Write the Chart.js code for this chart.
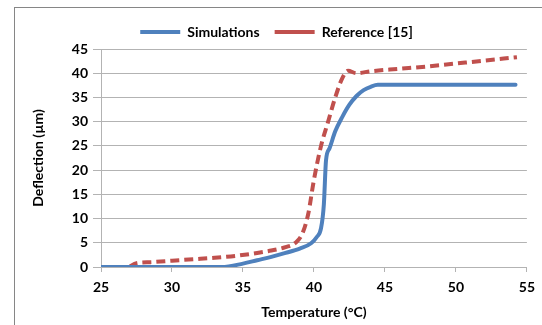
<!DOCTYPE html>
<html>
<head>
<meta charset="utf-8">
<script src="https://cdn.jsdelivr.net/npm/chart.js@4"></script>
<style>
  html, body { margin: 0; padding: 0; background: #fff; }
  #wrap { position: relative; width: 542px; height: 325px; }
  #frame { position: absolute; left: 14px; top: 7px; right: -2px; bottom: -2px;
    border-left: 1px solid #868686; border-top: 1px solid #868686; }
  canvas { position: absolute; left: 0; top: 0; }
</style>
</head>
<body>
<div id="wrap">
  <div id="frame"></div>
  <canvas id="chart" width="542" height="325"></canvas>
</div>
<script>
// values (temperature in °C, deflection in µm)
const simTemp = [25, 33.5, 35, 36, 37, 38, 39, 39.8, 40.2, 40.5, 40.7, 40.85, 41.1, 41.5, 42, 42.5, 43, 43.5, 44, 44.5, 54.2];
const simDefl = [0, 0, 0.7, 1.4, 2.1, 2.9, 3.8, 4.9, 6.2, 8, 13, 22, 24.5, 28, 31, 33.5, 35.3, 36.5, 37.2, 37.6, 37.6];

const refTemp = [27, 27.5, 28.5, 30, 31.5, 33, 34.5, 36, 37, 38, 38.7, 39.2, 39.6, 40, 40.5, 41, 41.5, 42, 42.4, 43, 44, 46, 48, 50, 52, 54.3];
const refDefl = [0, 0.8, 1.0, 1.3, 1.6, 1.9, 2.3, 2.9, 3.4, 4.1, 5, 7, 11, 18, 25, 30, 35, 39, 40.5, 40, 40.4, 40.9, 41.4, 42, 42.6, 43.3];

const seriesNames = ["Simulations", "Reference [15]"];
const xTicks = [25, 30, 35, 40, 45, 50, 55];
const yTicks = [0, 5, 10, 15, 20, 25, 30, 35, 40, 45];

const FONT = "Lato, 'Liberation Sans', sans-serif";
const BLUE = "#4f81bd";
const RED = "#c0504d";
const GRID = "#b3b3b3";

function toPoints(xs, ys) {
  return xs.map((x, i) => ({ x: x, y: ys[i] }));
}

new Chart(document.getElementById("chart"), {
  type: "scatter",
  data: {
    datasets: [
      {
        label: seriesNames[0],
        data: toPoints(simTemp, simDefl),
        showLine: true,
        borderColor: BLUE,
        backgroundColor: BLUE,
        borderWidth: 4,
        pointRadius: 0,
        cubicInterpolationMode: "monotone",
        borderCapStyle: "round",
      },
      {
        label: seriesNames[1],
        data: toPoints(refTemp, refDefl),
        showLine: true,
        borderColor: RED,
        backgroundColor: RED,
        borderWidth: 4,
        borderDash: [9, 5],
        pointRadius: 0,
        cubicInterpolationMode: "monotone",
      },
    ],
  },
  options: {
    responsive: false,
    animation: false,
    layout: { padding: { left: 26, right: 15, top: 10, bottom: 0 } },
    plugins: {
      tooltip: { enabled: false },
      legend: {
        position: "top",
        labels: {
          color: "#000",
          font: { family: FONT, size: 14, weight: "bold" },
          usePointStyle: true,
          pointStyle: "line",
          pointStyleWidth: 40,
          boxHeight: 4,
          padding: 15,
        },
      },
    },
    scales: {
      x: {
        type: "linear",
        min: 25,
        max: 55,
        afterBuildTicks: (s) => { s.ticks = xTicks.map((v) => ({ value: v })); },
        afterFit: (s) => { s.height = 58; },
        ticks: { color: "#000", font: { family: FONT, size: 14, weight: "bold" }, padding: 7, maxRotation: 0 },
        grid: { drawOnChartArea: false, drawTicks: true, tickLength: 5, color: GRID },
        border: { color: GRID },
        title: { display: true, text: "Temperature (°C)", color: "#000",
          font: { family: FONT, size: 14, weight: "bold" }, padding: { top: 11 } },
      },
      y: {
        min: 0,
        max: 45,
        afterBuildTicks: (s) => { s.ticks = yTicks.map((v) => ({ value: v })); },
        afterFit: (s) => { s.width = 75; },
        ticks: { color: "#000", font: { family: FONT, size: 14, weight: "bold" }, padding: 5 },
        grid: { color: GRID, drawTicks: true, tickLength: 8 },
        border: { color: GRID },
        title: { display: true, text: "Deflection (µm)", color: "#000",
          font: { family: FONT, size: 14, weight: "bold" }, padding: { top: 4, bottom: 0 } },
      },
    },
  },
});
</script>
</body>
</html>
